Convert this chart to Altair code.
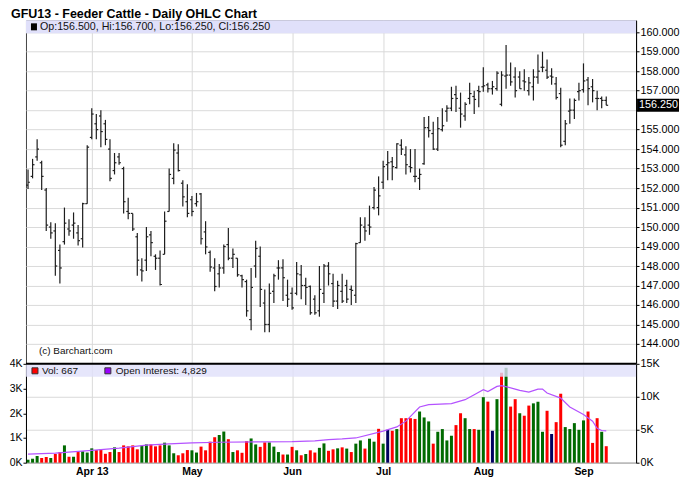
import altair as alt
import pandas as pd

# ---------------- data ----------------
opens = [
    152.15, 152.6, 153.6, 153.3, 151.9, 150.0, 149.8, 148.8, 149.25, 149.9,
    150.1, 149.7, 149.4, 151.2, 154.6, 155.3, 155.7, 155.3, 154.0, 152.9,
    153.6, 153.0, 150.8, 150.7, 149.5, 147.8, 148.3, 149.6, 148.5, 148.4,
    148.6, 150.8, 152.5, 153.8, 152.25, 151.3, 151.4, 151.2, 151.7, 149.75,
    148.7, 147.9, 147.6, 147.9, 149.1, 148.4, 148.4, 147.5, 147.2, 145.25,
    148.0, 148.5, 146.1, 145.0, 146.7, 147.9, 147.9, 146.5, 146.6, 146.6,
    147.55, 147.0, 146.95, 146.3, 145.7, 146.6, 148.0, 147.1, 146.2, 146.7,
    147.0, 146.8, 146.5, 149.2, 150.0, 150.1, 151.0, 151.0, 152.3, 153.2,
    153.35, 153.05, 154.2, 153.7, 153.1, 152.6, 152.5, 153.25, 155.1, 154.8,
    154.0, 155.0, 155.95, 156.1, 156.8, 156.1, 155.7, 156.6, 156.7, 157.0,
    157.2, 157.3, 157.1, 157.1, 156.3, 157.75, 157.8, 157.7, 157.7, 157.5,
    157.0, 157.2, 157.7, 158.2, 158.05, 157.75, 157.35, 156.85, 154.4, 155.95,
    156.0, 156.95, 157.05, 157.55, 157.2, 156.6, 156.6, 156.5]
highs = [
    152.95, 153.5, 154.5, 153.4, 152.0, 150.25, 150.2, 149.1, 151.0, 150.4,
    150.75, 150.1, 151.25, 154.2, 156.1, 155.8, 156.0, 155.5, 154.5, 153.8,
    153.8, 153.1, 151.5, 150.7, 149.7, 148.4, 150.0, 149.8, 148.6, 148.8,
    150.8, 153.0, 154.3, 154.25, 152.4, 152.2, 151.6, 151.75, 151.75, 150.3,
    148.8, 148.4, 148.1, 149.1, 149.95, 148.9, 148.4, 147.55, 147.3, 147.9,
    149.3, 149.0, 146.8, 147.1, 147.6, 148.3, 148.35, 147.3, 146.9, 148.2,
    148.05, 147.4, 147.0, 146.5, 148.0, 148.1, 148.2, 147.6, 147.25, 147.6,
    147.3, 147.0, 149.2, 150.5, 150.5, 151.1, 152.05, 152.6, 153.4, 153.9,
    153.6, 154.3, 154.5, 154.15, 154.0, 154.0, 153.0, 155.65, 155.7, 155.4,
    155.65, 156.1, 156.25, 157.2, 157.25, 156.9, 156.4, 157.4, 157.0, 157.25,
    158.2, 157.4, 157.5, 158.0, 158.0, 159.35, 158.45, 158.2, 158.0, 158.1,
    157.7, 158.1, 158.85, 159.0, 158.6, 158.15, 157.7, 157.15, 155.5, 156.6,
    156.6, 157.4, 158.4, 157.7, 157.6, 157.0, 156.7, 156.7]
lows = [
    151.95, 152.5, 153.4, 151.9, 149.8, 149.4, 147.5, 147.1, 149.1, 149.55,
    149.4, 149.05, 148.95, 151.2, 154.5, 154.5, 154.1, 154.2, 152.35, 152.7,
    153.2, 150.7, 150.4, 149.8, 147.5, 147.2, 147.75, 148.5, 147.8, 147.0,
    148.6, 150.8, 152.2, 152.85, 151.05, 150.5, 150.55, 151.05, 149.1, 148.6,
    147.7, 146.7, 146.9, 147.6, 148.3, 147.9, 147.45, 146.9, 145.4, 144.7,
    147.4, 145.9, 144.6, 144.6, 146.1, 147.3, 146.2, 145.9, 145.75, 146.5,
    146.3, 146.0, 145.5, 145.5, 145.4, 146.1, 147.0, 145.9, 145.8, 146.1,
    146.1, 146.0, 146.1, 149.2, 149.3, 149.6, 150.9, 150.6, 151.95, 152.4,
    152.4, 153.0, 153.7, 152.7, 152.8, 152.3, 151.9, 153.2, 154.6, 153.95,
    153.9, 154.9, 155.4, 155.95, 155.9, 155.1, 155.45, 156.3, 155.8, 156.15,
    156.95, 156.9, 156.8, 157.0, 156.2, 157.1, 157.25, 156.65, 157.1, 157.0,
    156.75, 156.5, 157.35, 157.95, 157.6, 157.3, 156.55, 154.1, 154.2, 155.3,
    155.55, 156.5, 156.9, 156.25, 156.4, 156.0, 156.1, 156.25]
closes = [
    152.3, 153.2, 154.0, 152.6, 150.1, 149.7, 148.0, 147.9, 150.2, 149.8,
    150.2, 149.3, 151.2, 154.1, 155.8, 155.0, 154.9, 154.5, 152.5, 153.3,
    153.3, 151.3, 150.7, 149.9, 148.3, 147.75, 149.5, 149.2, 148.4, 147.05,
    150.3, 152.7, 153.95, 152.9, 151.55, 150.7, 150.8, 151.3, 149.4, 148.98,
    147.95, 146.95, 147.9, 149.0, 148.4, 148.6, 147.55, 147.3, 145.7, 146.9,
    148.9, 146.8, 145.0, 146.6, 147.5, 147.9, 147.4, 146.3, 145.85, 147.6,
    147.0, 146.9, 145.6, 145.6, 146.8, 148.0, 147.6, 146.2, 147.0, 146.2,
    146.3, 146.75, 149.15, 150.1, 149.8, 150.0, 151.9, 151.6, 153.1, 153.3,
    153.1, 154.27, 154.0, 153.2, 153.05, 152.6, 152.7, 155.1, 154.95, 154.0,
    155.05, 155.2, 156.1, 156.6, 156.6, 155.8, 156.3, 156.85, 156.55, 156.95,
    157.25, 157.1, 157.2, 157.9, 157.8, 157.8, 157.45, 157.0, 157.1, 157.45,
    157.4, 157.7, 158.0, 158.2, 157.7, 157.7, 156.65, 154.2, 155.3, 156.0,
    156.5, 157.0, 157.5, 157.1, 157.0, 156.6, 156.5, 156.25]

# volume in thousands of contracts
vols = [
    0.12, 0.16, 0.27, 0.19, 0.23, 0.19, 0.35, 0.43, 0.70, 0.24,
    0.24, 0.43, 0.46, 0.41, 0.58, 0.51, 0.54, 0.36, 0.43, 0.62,
    0.43, 0.70, 0.66, 0.70, 0.54, 0.69, 0.74, 0.74, 0.66, 0.70,
    0.81, 0.70, 0.38, 0.30, 0.38, 0.51, 0.50, 0.41, 0.65, 0.50,
    0.85, 1.03, 1.12, 1.26, 0.95, 0.43, 0.50, 0.40, 0.87, 0.98,
    0.74, 0.64, 0.82, 0.82, 0.65, 0.43, 0.33, 0.33, 0.64, 0.50,
    0.30, 0.35, 0.50, 0.41, 0.60, 0.78, 0.48, 0.54, 0.58, 0.62,
    0.57, 0.43, 0.77, 0.90, 0.57, 0.97, 0.85, 1.37, 0.77, 1.33,
    1.29, 1.36, 1.80, 1.80, 1.80, 1.77, 2.07, 1.83, 1.67, 0.77,
    1.25, 1.36, 0.90, 1.09, 1.52, 2.00, 1.80, 1.36, 1.36, 1.33,
    2.65, 2.47, 1.29, 2.57, 3.64, 3.84, 2.27, 2.57, 2.00, 1.90,
    2.31, 2.40, 2.47, 1.25, 2.10, 1.16, 1.64, 2.79, 1.44, 1.36,
    1.60, 1.33, 1.71, 2.07, 0.80, 1.80, 1.25, 0.667]
# day direction used to colour the volume bars: G up, R down, N unchanged
vol_dir = list(
    "GGGRRGRRGR" "GRGGGRRRRG" "RRRRRGGRRR" "GGGRRRGGRR" "RRGGRGRRRG"
    "GRRGGGRGRG" "RGRRGGRRGR" "GRGGRGGRGN" "RGRRRRGGGR" "GGGGRRGGRG"
    "GRNGRGRRGR" "RGGGRNRRGG" "GGGRRRGR")

# open interest (thousands), read at points along the purple line
oi_idx = [0, 6, 14, 20, 26, 31, 36, 42, 50, 58, 63, 66, 69, 72, 78, 81, 83, 86, 88, 93,
          96, 98, 100, 101, 103, 104, 107, 108, 110, 112, 113, 114, 117, 119, 122, 124,
          125, 126, 127]
oi_val = [1.30, 1.45, 1.86, 2.2, 2.66, 2.86, 3.0, 3.1, 3.17, 3.2, 3.3, 3.5, 3.6, 3.75,
          4.78, 5.43, 6.3, 8.45, 8.8, 8.96, 9.56, 10.3, 11.07, 10.8, 11.58, 11.7, 11.17,
          10.97, 10.7, 11.17, 11.17, 10.57, 9.8, 8.45, 7.3, 6.3, 5.2, 4.88, 4.829]

month_idx = [14, 36, 58, 78, 100, 122]
month_lbl = ["Apr 13", "May", "Jun", "Jul", "Aug", "Sep"]
price_ticks = list(range(144, 161))
vol_ticks = [0, 1, 2, 3, 4]
oi_ticks = [0, 5, 10, 15]

title_text = "GFU13 - Feeder Cattle - Daily OHLC Chart"
credit_text = "(c) Barchart.com"

# ---------------- chart ----------------
FONT = "Liberation Sans"
W, HP, HV = 611, 344, 99
XDOM = [-0.45, 133.55]
YDOM = [142.98, 160.61]
GRID = "#dadada"
BAND = "#e0e0fa"
BARC = "#1e1e1e"

n = len(closes)
dir_name = {"G": "up", "R": "down", "N": "unch"}
df = pd.DataFrame({
    "idx": list(range(n)), "open": opens, "high": highs, "low": lows,
    "close": closes, "vol": vols, "dir": [dir_name[d] for d in vol_dir],
})
oi_df = pd.DataFrame({"idx": oi_idx, "oi": oi_val})
one = pd.DataFrame({"k": [0]})

last = n - 1
header_text = "Op:{:.3f}, Hi:{:.3f}, Lo:{:.3f}, Cl:{:.3f}".format(
    opens[last], highs[last], lows[last], closes[last])
last_text = "{:.3f}".format(closes[last])
vol_text = "Vol: {:,}".format(int(round(vols[last] * 1000)))
oi_text = "Open Interest: {:,}".format(int(round(oi_val[-1] * 1000)))

month_expr = " : ".join(
    "datum.value == {} ? '{}'".format(i, l) for i, l in zip(month_idx, month_lbl)) + " : ''"

xscale = alt.Scale(domain=XDOM, nice=False, zero=False, padding=0)
yscale = alt.Scale(domain=YDOM, nice=False, zero=False)

x_price_axis = alt.Axis(values=month_idx, labels=False, ticks=False, domain=False,
                        grid=True, gridColor=GRID, title=None, minExtent=0, maxExtent=0)
y_price_axis = alt.Axis(orient="right", values=price_ticks,
                        labelExpr="datum.value == 156 ? '' : format(datum.value, '.3f')",
                        grid=True, gridColor=GRID, tickSize=3, tickColor="#000",
                        domainColor="#000", labelFontSize=10.8, labelColor="#000",
                        labelPadding=1, title=None)

def px(field):
    return alt.X(field, type="quantitative", scale=xscale, axis=x_price_axis)

def py(field):
    return alt.Y(field, type="quantitative", scale=yscale, axis=y_price_axis)

base = alt.Chart(df)
hl = base.mark_rule(color=BARC, strokeWidth=1.2).encode(
    x=px("idx"), y=py("high"), y2="low:Q")
open_tick = base.transform_calculate(xo="datum.idx - 0.42").mark_rule(
    color=BARC, strokeWidth=1.2).encode(x=px("xo"), x2="idx:Q", y=py("open"))
close_tick = base.transform_calculate(xc="datum.idx + 0.42").mark_rule(
    color=BARC, strokeWidth=1.2).encode(x=px("idx"), x2="xc:Q", y=py("close"))

pband = alt.Chart(one).mark_rect(color=BAND).encode(
    x=alt.value(0), x2=alt.value(W), y=alt.value(0), y2=alt.value(13))
psq = alt.Chart(one).mark_rect(color="#000").encode(
    x=alt.value(5), x2=alt.value(11), y=alt.value(3), y2=alt.value(10))
ptxt = alt.Chart(one).mark_text(align="left", baseline="middle", font=FONT,
                                fontSize=10.7, color="#111").encode(
    x=alt.value(14), y=alt.value(7), text=alt.value(header_text))
credit = alt.Chart(one).mark_text(align="left", baseline="middle", font=FONT,
                                  fontSize=10, color="#111").encode(
    x=alt.value(13), y=alt.value(HP - 13), text=alt.value(credit_text))
title_mark = alt.Chart(one).mark_text(align="left", baseline="top", font=FONT,
                                      fontSize=12.5, fontWeight="bold",
                                      color="#000").encode(
    x=alt.value(-15), y=alt.value(-12), text=alt.value(title_text))
lastbox = alt.Chart(one).mark_rect(color="#000").encode(
    x=alt.value(W + 1), x2=alt.value(W + 43),
    y=alt.YDatum(closes[last] + 0.33, type="quantitative", scale=yscale,
                 axis=y_price_axis),
    y2=alt.Y2Datum(closes[last] - 0.33),
)
lasttxt = alt.Chart(one).mark_text(align="left", baseline="middle", font=FONT,
                                   fontSize=10.8, color="#fff").encode(
    x=alt.value(W + 3),
    y=alt.YDatum(closes[last], type="quantitative", scale=yscale, axis=y_price_axis),
    text=alt.value(last_text),
)
price = alt.layer(hl, pband, open_tick, close_tick, psq, ptxt, credit, title_mark,
                  lastbox, lasttxt).properties(width=W, height=HP)

vol_x_axis = alt.Axis(values=month_idx, labelExpr=month_expr, labelFontWeight="bold",
                      labelFontSize=10.5, labelColor="#000", labelPadding=4, ticks=False,
                      domain=False, grid=True, gridColor=GRID, title=None)
vol_y_axis = alt.Axis(orient="left", values=vol_ticks, labelExpr="datum.value + 'K'",
                      grid=False, tickSize=3, labelPadding=1, labelFontSize=10.5,
                      labelColor="#000", domainColor="#000", tickColor="#000", title=None)
oi_y_axis = alt.Axis(orient="right", values=oi_ticks, labelExpr="datum.value + 'K'",
                     grid=True, gridColor=GRID, tickSize=3, labelPadding=1,
                     labelFontSize=10.8, labelColor="#000", domainColor="#000",
                     tickColor="#000", title=None)

bars = alt.Chart(df).mark_bar(size=3).encode(
    x=alt.X("idx:Q", scale=xscale, axis=vol_x_axis),
    y=alt.Y("vol:Q", scale=alt.Scale(domain=[0, 4], nice=False), axis=vol_y_axis),
    color=alt.Color("dir:N", scale=alt.Scale(domain=["up", "down", "unch"],
                                             range=["#006a00", "#ff0000", "#000060"]),
                    legend=None),
)
oi_line = alt.Chart(oi_df).mark_line(color="#b452ff", strokeWidth=1.2).encode(
    x=alt.X("idx:Q", scale=xscale, axis=vol_x_axis),
    y=alt.Y("oi:Q", scale=alt.Scale(domain=[0, 15], nice=False), axis=oi_y_axis),
)
vband = alt.Chart(one).mark_rect(color=BAND, opacity=0.8).encode(
    x=alt.value(0), x2=alt.value(W), y=alt.value(0), y2=alt.value(13))
vsq1 = alt.Chart(one).mark_rect(color="#ff0000", stroke="#333", strokeWidth=1).encode(
    x=alt.value(6), x2=alt.value(12), y=alt.value(4), y2=alt.value(10))
vtx1 = alt.Chart(one).mark_text(align="left", baseline="middle", font=FONT,
                                fontSize=10, color="#111").encode(
    x=alt.value(16), y=alt.value(7), text=alt.value(vol_text))
vsq2 = alt.Chart(one).mark_rect(color="#9a00ff", stroke="#333", strokeWidth=1).encode(
    x=alt.value(79), x2=alt.value(85), y=alt.value(4), y2=alt.value(10))
vtx2 = alt.Chart(one).mark_text(align="left", baseline="middle", font=FONT,
                                fontSize=10, color="#111").encode(
    x=alt.value(90), y=alt.value(7), text=alt.value(oi_text))
sep = alt.Chart(one).mark_rule(color="#000", strokeWidth=2).encode(
    x=alt.value(0), x2=alt.value(W), y=alt.value(0))

volume = alt.layer(bars, oi_line, vband, vsq1, vtx1, vsq2, vtx2, sep).resolve_scale(
    y="independent").properties(width=W, height=HV)

chart = alt.vconcat(price, volume, spacing=0, bounds="flush").properties(
    padding={"left": 0, "top": -1, "right": 0, "bottom": 0},
).configure(font=FONT).configure_view(stroke="#444", strokeWidth=1).configure_axis(
    labelFont=FONT).configure_concat(spacing=0).configure_scale(continuousPadding=0)

chart.save("out.html", embed_options={"renderer": "svg", "actions": False})
